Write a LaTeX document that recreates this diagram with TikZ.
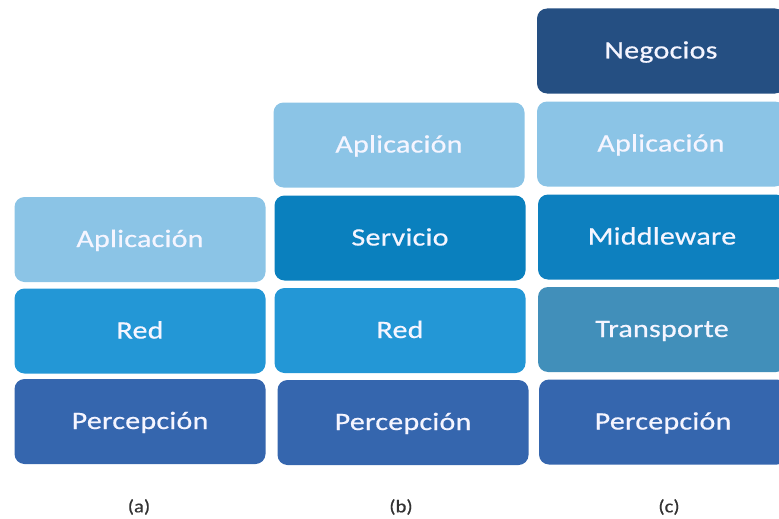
\documentclass[tikz,border=0pt]{standalone}
\usepackage{fontspec}
\setmainfont[FakeStretch=1.2,FakeBold=0.6,LetterSpace=1]{Carlito}
\newfontfamily\capfont[FakeStretch=1.15,FakeBold=0.5]{Carlito}
\definecolor{cApp}{HTML}{8BC4E6}
\definecolor{cRed}{HTML}{2397D6}
\definecolor{cPer}{HTML}{3566AE}
\definecolor{cSer}{HTML}{0A80BE}
\definecolor{cNeg}{HTML}{254F82}
\definecolor{cMid}{HTML}{0D80BF}
\definecolor{cTra}{HTML}{418FBA}
\definecolor{cLab}{HTML}{333333}
\begin{document}
\begin{tikzpicture}[x=1pt,y=-1pt,
  layer/.style={rectangle, rounded corners=10pt, minimum width=251pt, minimum height=85pt,
    inner sep=0pt, text=white!96!blue, text height=20pt, text depth=5pt,
    font=\fontsize{25}{30}\selectfont, anchor=center},
  caption/.style={text=cLab, font=\capfont\fontsize{18}{21}\selectfont, anchor=center}]
\useasboundingbox (0,0) rectangle (779,519);
% column (a)
\node[layer, fill=cApp] (aApp) at (140,239.5) {Aplicación};
\node[layer, fill=cRed] (aRed) at (140,331) {Red};
\node[layer, fill=cPer] (aPer) at (140,421.5) {Percepción};
% column (b)
\node[layer, fill=cApp] (bApp) at (399,145) {Aplicación};
\node[layer, fill=cSer] (bSer) at (400,238) {Servicio};
\node[layer, fill=cRed] (bRed) at (400,330.5) {Red};
\node[layer, fill=cPer] (bPer) at (403,422.5) {Percepción};
% column (c)
\node[layer, fill=cNeg, minimum width=248pt] (cNeg) at (661,51) {Negocios};
\node[layer, fill=cApp, minimum width=248pt] (cApp) at (661,144) {Aplicación};
\node[layer, fill=cMid, minimum width=248pt] (cMid) at (662,237) {Middleware};
\node[layer, fill=cTra, minimum width=248pt] (cTra) at (662,329.5) {Transporte};
\node[layer, fill=cPer, minimum width=248pt] (cPer) at (663,422) {Percepción};
% captions
\node[caption] (la) at (139,507) {(a)};
\node[caption] (lb) at (401,507) {(b)};
\node[caption] (lc) at (669,507) {(c)};
\end{tikzpicture}
\end{document}
